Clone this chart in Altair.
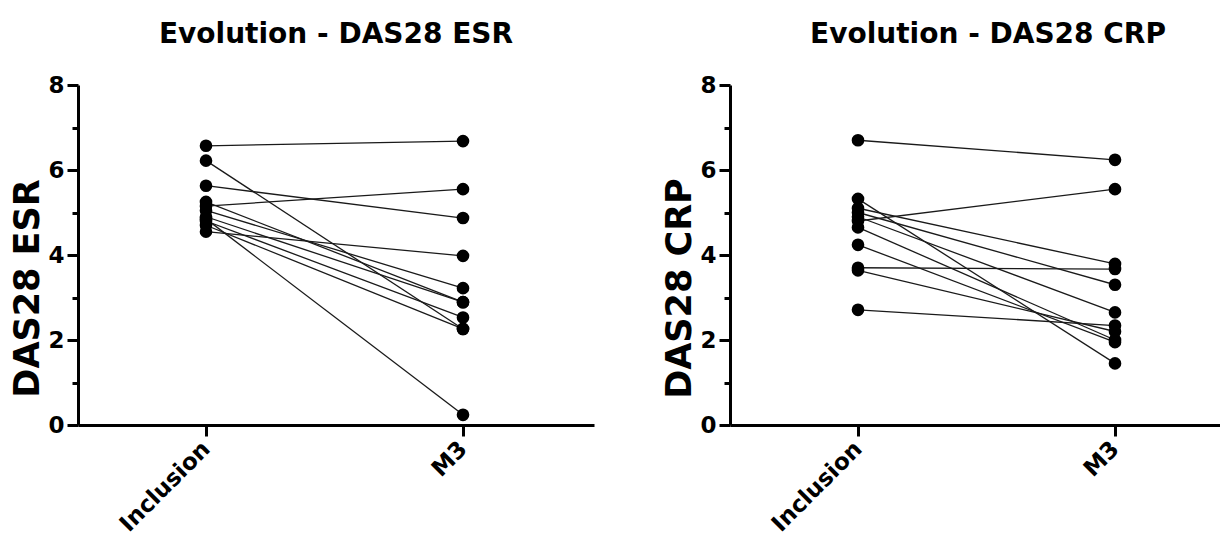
import altair as alt
import pandas as pd

times = ["Inclusion", "M3"]

esr_inclusion = [6.57, 6.22, 5.63, 5.15, 4.55, 4.85, 5.05, 4.90, 4.80, 4.70, 5.25]
esr_m3 = [6.68, 2.26, 4.87, 5.55, 3.98, 0.24, 3.22, 2.89, 2.53, 2.26, 2.89]

crp_inclusion = [6.70, 5.32, 5.10, 5.00, 4.90, 4.80, 4.65, 4.24, 3.70, 3.64, 2.71]
crp_m3 = [6.24, 1.45, 3.79, 3.30, 2.65, 5.55, 2.00, 1.95, 3.67, 2.20, 2.34]

y_ticks = [0, 1, 2, 3, 4, 5, 6, 7, 8]

FONT = "DejaVu Sans"
PLOT_H = 340


def panel(inc, m3, title, ytitle, width, dx):
    rows = []
    for i, (a, b) in enumerate(zip(inc, m3)):
        rows.append({"patient": i, "t": 0, "time": times[0], "value": a})
        rows.append({"patient": i, "t": 1, "time": times[1], "value": b})
    df = pd.DataFrame(rows)
    # category positions: Inclusion 128 px, M3 385 px from the y axis
    lo = -128 / 257
    hi = (width - 128) / 257
    x = alt.X(
        "t:Q",
        scale=alt.Scale(domain=[lo, hi], nice=False, zero=False),
        axis=alt.Axis(
            title=None,
            values=[0, 1],
            labelExpr="datum.value == 0 ? 'Inclusion' : 'M3'",
            labelAngle=-45,
            labelAlign="right",
            labelBaseline="middle",
            labelPadding=9,
            tickSize=11,
        ),
    )
    y = alt.Y(
        "value:Q",
        scale=alt.Scale(domain=[0, 8], nice=False, zero=True),
        axis=alt.Axis(
            title=ytitle,
            values=y_ticks,
            labelExpr="datum.value % 2 == 1 ? '' : datum.label",
            tickSize={"condition": {"test": "datum.value % 2 == 1", "value": 6}, "value": 11},
            labelPadding=3,
            titleX=-33,
            titleY=203,
        ),
    )
    base = alt.Chart(df)
    lines = base.mark_line(color="#1a1a1a", strokeWidth=1.3).encode(
        x=x, y=y, detail="patient:N"
    )
    pts = base.mark_circle(size=160, color="black", opacity=1).encode(x=x, y=y)
    return alt.layer(lines, pts).properties(
        width=width,
        height=PLOT_H,
        title=alt.TitleParams(
            text=title,
            font=FONT,
            fontSize=28,
            fontWeight="bold",
            color="black",
            anchor="middle",
            frame="group",
            dx=dx,
            offset=25,
        ),
    )


left = panel(esr_inclusion, esr_m3, "Evolution - DAS28 ESR", "DAS28 ESR", 516, 0)
right = panel(crp_inclusion, crp_m3, "Evolution - DAS28 CRP", "DAS28 CRP", 490, 13)

chart = (
    alt.hconcat(left, right, spacing=68)
    .properties(padding={"left": 2, "top": 13, "right": 0, "bottom": 0})
    .configure_view(stroke=None)
    .configure_axis(
        grid=False,
        domainColor="black",
        domainWidth=3,
        tickColor="black",
        tickWidth=3,
        labelFont=FONT,
        labelFontWeight="bold",
        labelFontSize=23,
        labelColor="black",
        titleFont=FONT,
        titleFontWeight="bold",
        titleFontSize=35,
        titleColor="black",
    )
)

chart.save("out.html", embed_options={"renderer": "svg", "actions": False})
